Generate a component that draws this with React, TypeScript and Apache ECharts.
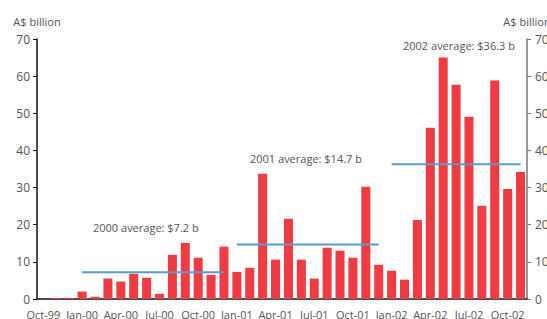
import React, { useEffect, useRef } from "react";
import * as echarts from "echarts";

const categories = [
  "Oct-99", "Nov-99", "Dec-99",
  "Jan-00", "Feb-00", "Mar-00", "Apr-00", "May-00", "Jun-00", "Jul-00", "Aug-00", "Sep-00", "Oct-00", "Nov-00", "Dec-00",
  "Jan-01", "Feb-01", "Mar-01", "Apr-01", "May-01", "Jun-01", "Jul-01", "Aug-01", "Sep-01", "Oct-01", "Nov-01", "Dec-01",
  "Jan-02", "Feb-02", "Mar-02", "Apr-02", "May-02", "Jun-02", "Jul-02", "Aug-02", "Sep-02", "Oct-02", "Nov-02",
];

const values = [
  0, 0.3, 0.3,
  2.0, 0.6, 5.5, 4.7, 6.8, 5.7, 1.4, 11.9, 15.1, 11.1, 6.5, 14.1,
  7.3, 8.4, 33.7, 10.6, 21.6, 10.6, 5.5, 13.8, 13.0, 11.1, 30.2, 9.2,
  7.6, 5.2, 21.3, 46.1, 65.0, 57.7, 49.1, 25.1, 58.8, 29.6, 34.2,
];

const averageYears = ["00", "01", "02"];
const averageValues = [7.2, 14.7, 36.3];
const averageLabels = ["2000 average: $7.2 b", "2001 average: $14.7 b", "2002 average: $36.3 b"];

const yTicks = [0, 10, 20, 30, 40, 50, 60, 70];

const TEXT = "#555555";
const FONT = "'Open Sans', sans-serif";

export default function App() {
  const ref = useRef<HTMLDivElement>(null);
  useEffect(() => {
    if (!ref.current) return;
    const chart = echarts.init(ref.current, null, { renderer: "svg" });

    const avgSeries = averageYears.map((yy, k) => ({
      type: "line",
      yAxisIndex: 0,
      z: 5,
      symbol: "none",
      silent: true,
      lineStyle: { color: "#5B9BD5", width: 2 },
      data: categories.map((c) => (c.endsWith("-" + yy) ? averageValues[k] : null)),
    }));

    const yAxisCommon = {
      type: "value",
      min: yTicks[0],
      max: yTicks[yTicks.length - 1],
      interval: 10,
      splitLine: { show: false },
      axisTick: { show: true, length: 4 },
      axisLabel: { color: TEXT, fontSize: 12, fontFamily: FONT },
      name: "A$ billion",
      nameLocation: "end",
      nameGap: 12,
      nameTextStyle: { color: TEXT, fontSize: 11, fontFamily: FONT },
    };

    chart.setOption({
      animation: false,
      grid: { left: 37, right: 20, top: 39, bottom: 20, containLabel: false, outerBoundsMode: "none" },
      xAxis: {
        type: "category",
        data: categories,
        boundaryGap: true,
        axisLine: { lineStyle: { color: "#111", width: 1.5 } },
        axisTick: { interval: 2, length: 4, lineStyle: { color: "#111" } },
        axisLabel: { interval: 2, color: TEXT, fontSize: 11, fontFamily: FONT, margin: 10, hideOverlap: false },
      },
      yAxis: [
        {
          ...yAxisCommon,
          position: "left",
          axisLine: { show: true, lineStyle: { color: "#111", width: 1.5 } },
          axisLabel: { ...yAxisCommon.axisLabel, margin: 7 },
        },
        {
          ...yAxisCommon,
          position: "right",
          axisLine: { show: true, lineStyle: { color: "#777", width: 1.5 } },
          axisLabel: { ...yAxisCommon.axisLabel, margin: 8 },
        },
      ],
      series: [
        {
          type: "bar",
          data: values,
          barWidth: "70%",
          itemStyle: { color: "#EF3B42" },
          z: 2,
        },
        ...avgSeries,
      ],
      graphic: [
        { type: "text", x: 93, y: 222, style: { text: averageLabels[0], fill: TEXT, fontSize: 11, fontFamily: FONT } },
        { type: "text", x: 250, y: 153, style: { text: averageLabels[1], fill: TEXT, fontSize: 11, fontFamily: FONT } },
        { type: "text", x: 403, y: 40, style: { text: averageLabels[2], fill: TEXT, fontSize: 11, fontFamily: FONT } },
      ],
    });
    return () => chart.dispose();
  }, []);
  return <div ref={ref} style={{ width: 547, height: 319, position: "absolute", left: 0, top: 0, background: "#fff" }} />;
}
